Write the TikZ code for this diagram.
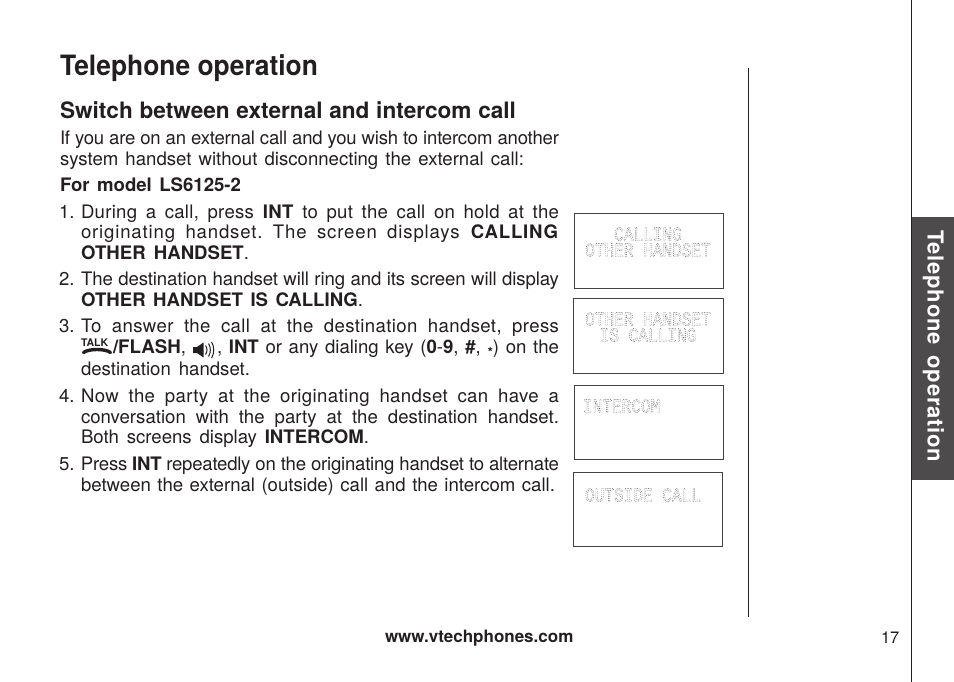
\documentclass[tikz,border=0pt]{standalone}
\usepackage{fontspec}
\usepackage{graphicx}
\setmainfont{TeX Gyre Heros}
\newfontfamily\lcdfont{Liberation Mono}
\definecolor{tabgrey}{HTML}{4D4B4C}
\definecolor{inkcol}{HTML}{231F20}
\definecolor{lcdgrey}{HTML}{555555}
\frenchspacing
\newsavebox{\fitbox}
\newcommand{\fitline}[2]{\sbox{\fitbox}{#2}\ifdim\wd\fitbox>#1pt\resizebox{#1pt}{\ht\fitbox}{\usebox{\fitbox}}\else\makebox[#1pt][s]{#2}\fi}
\newcommand{\lcd}[1]{\scalebox{1}[1.22]{\special{pdf:code q 1 Tr 0.34 w [0.75 0.85] 0 d}#1\special{pdf:code Q}}}
\tikzset{
  txt/.style={anchor=base west,inner sep=0pt,outer sep=0pt,text=inkcol,font=\fontsize{18.6}{21}\selectfont},
  lcdframe/.style={draw=inkcol!85!white,line width=0.9pt,fill=white,inner sep=0pt,outer sep=0pt,minimum width=149pt},
  lcdtext/.style={inner sep=0pt,outer sep=0pt,text=lcdgrey,font=\lcdfont\fontsize{16.1}{16}\selectfont,anchor=base},
  rule/.style={draw=inkcol,line width=0.9pt},
  arcline/.style={inkcol,line width=1pt},
}
\newcommand{\bl}[5]{\node[txt] (#1) at (#2,#3) {\fitline{#4}{#5}};}
\begin{document}
\begin{tikzpicture}[x=1pt,y=-1pt]
\useasboundingbox[fill=white] (0,0) rectangle (954,682);
% rules and tab
\coordinate (ra) at (748,68); \coordinate (rb) at (748,617);
\coordinate (rc) at (911.5,0); \coordinate (rd) at (911.5,682);
\draw[rule] (ra) -- (rb);
\draw[rule] (rc) -- (rd);
\fill[tabgrey] (911.5,217) rectangle (954,480);
\node[inner sep=0pt,anchor=base west,rotate=-90,text=white,font=\fontsize{22}{22}\selectfont\bfseries] (tabtext) at (927.5,230) {\fitline{232}{\addfontfeature{LetterSpace=3.5}Telephone operation}};
% headings
\node[txt,font=\fontsize{28}{30}\selectfont\bfseries] (title) at (60,76) {\fitline{258}{Telephone operation}};
\node[txt,font=\fontsize{22.6}{24}\selectfont\bfseries] (sub) at (60,118.5) {\fitline{456}{Switch between external and intercom call}};
% body
\bl{l1}{60}{145}{499}{\addfontfeature{LetterSpace=-1}If you are on an external call and you wish to intercom another}
\bl{l2}{60}{166}{464}{system handset without disconnecting the external call:}
\bl{l3}{60}{192}{181}{\bfseries For model LS6125-2}
\node[txt] (n1) at (59,218.5) {1.};
\bl{a1}{81}{218.5}{478}{\addfontfeature{LetterSpace=1.5}During a call, press \textbf{INT} to put the call on hold at the}
\bl{a2}{81}{239}{478}{\addfontfeature{LetterSpace=4.5}originating handset. The screen displays \textbf{CALLING}}
\bl{a3}{81}{259.5}{168}{\textbf{OTHER HANDSET}.}
\node[txt] (n2) at (59,285.5) {2.};
\bl{b1}{81}{285.5}{478}{\addfontfeature{LetterSpace=-0.5}The destination handset will ring and its screen will display}
\bl{b2}{81}{306}{282}{\textbf{OTHER HANDSET IS CALLING}.}
\node[txt] (n3) at (59,332.5) {3.};
\bl{c1}{81}{332.5}{478}{\addfontfeature{LetterSpace=2}To answer the call at the destination handset, press}
\node[txt,font=\fontsize{10.5}{11}\selectfont\bfseries] (talk) at (81,346) {\fitline{32}{TALK}};
\node[txt] (c2a) at (113,353.5) {\resizebox{73pt}{!}{\textbf{/FLASH},}};
\bl{c2b}{217}{353.5}{342}{, \textbf{INT} or any dialing key (\textbf{0}-\textbf{9}, \textbf{\#}, \raisebox{-0.4ex}{\fontsize{14}{14}\selectfont\textbf{*}}) on the}
\bl{c3}{81}{375}{169}{destination handset.}
\node[txt] (n4) at (59,402) {4.};
\bl{d1}{81}{402}{478}{\addfontfeature{LetterSpace=2}Now the party at the originating handset can have a}
\bl{d2}{81}{423}{478}{conversation with the party at the destination handset.}
\bl{d3}{81}{443.5}{288}{Both screens display \textbf{INTERCOM}.}
\node[txt] (n5) at (59,470.5) {5.};
\bl{e1}{81}{470.5}{478}{\addfontfeature{LetterSpace=-1.2}Press \textbf{INT} repeatedly on the originating handset to alternate}
\bl{e2}{81}{491.5}{474}{between the external (outside) call and the intercom call.}
% talk handset icon
\draw[inkcol,line width=3.4pt,line cap=round] (83.5,352.5) .. controls (89,348.5) and (105,348.5) .. (110.5,352.5);
% speaker icon
\fill[inkcol] (193,347) -- (197,347) -- (203.5,342.5) -- (203.5,357.5) -- (197,353) -- (193,353) -- cycle;
\draw[arcline] (205.5,345.5) .. controls (207.5,348) and (207.5,352) .. (205.5,354.5);
\draw[arcline] (208.5,343.5) .. controls (211,347) and (211,353) .. (208.5,356.5);
\draw[arcline] (211.5,342) .. controls (214.5,346) and (214.5,354) .. (211.5,358);
% screens
\node[lcdframe,minimum height=75pt] (s1) at (648.5,250.5) {};
\node[lcdframe,minimum height=75pt,minimum width=149.5pt] (s2) at (648.25,335.5) {};
\node[lcdframe,minimum height=74pt] (s3) at (648.5,422) {};
\node[lcdframe,minimum height=74pt] (s4) at (648,509) {};
\node[lcdtext] (t1) at (648,240.5) {\lcd{CALLING}};
\node[lcdtext] (t2) at (648,256.5) {\lcd{OTHER HANDSET}};
\node[lcdtext] (t3) at (648,325.5) {\lcd{OTHER HANDSET}};
\node[lcdtext] (t4) at (648,341.5) {\lcd{IS CALLING}};
\node[lcdtext,anchor=base west] (t5) at (583,412.5) {\lcd{INTERCOM}};
\node[lcdtext,anchor=base west] (t6) at (585,501.5) {\lcd{OUTSIDE CALL}};
% footer
\node[txt,font=\fontsize{17}{18}\selectfont\bfseries] (web) at (385,642.5) {\fitline{189}{www.vtechphones.com}};
\node[txt,font=\fontsize{16.5}{18}\selectfont] (page) at (881,643) {17};
\end{tikzpicture}
\end{document}
